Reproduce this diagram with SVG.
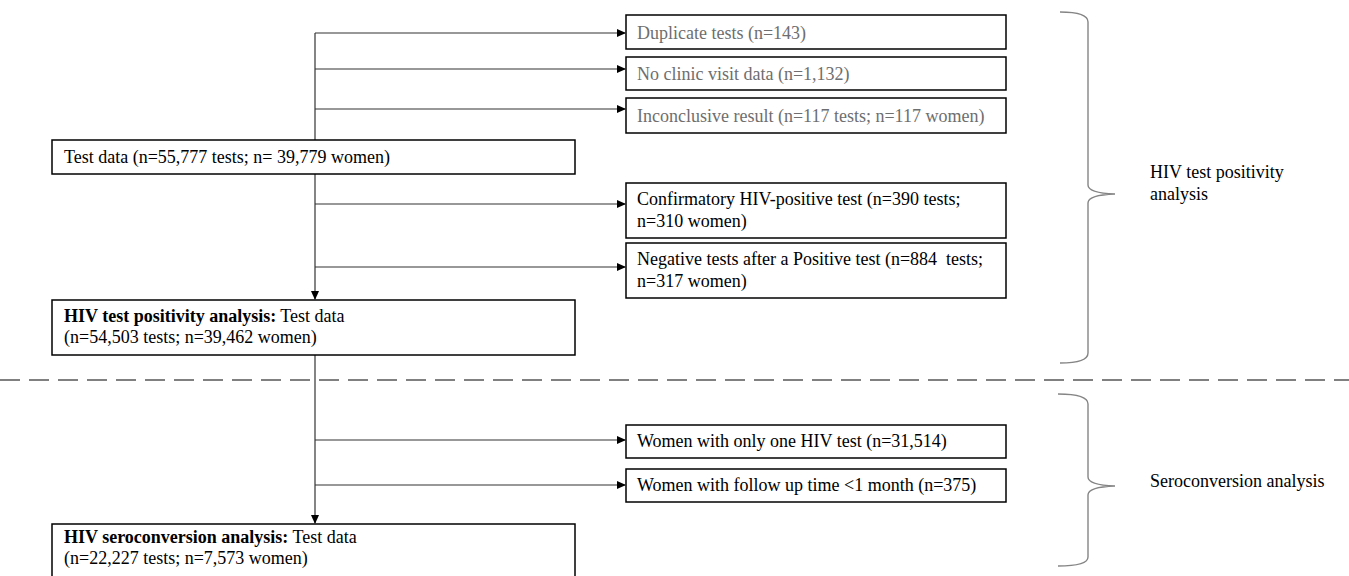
<svg xmlns="http://www.w3.org/2000/svg" width="1349" height="576" viewBox="0 0 1349 576">
<style>
.box{fill:#fff;stroke:#000;stroke-width:1.5}
.t{font-family:"Liberation Serif","Times New Roman",serif;font-size:18px;fill:#000}
.g{fill:#6e6e6e}
.b{font-weight:bold}
.c{fill:none;stroke:#333;stroke-width:1.2}
.br{fill:none;stroke:#858585;stroke-width:1.4}
</style>
<defs>
<marker id="ah" markerWidth="9" markerHeight="9" refX="8" refY="4.5" orient="auto" markerUnits="userSpaceOnUse">
<path d="M0,0.5 L9,4.5 L0,8.5 Z" fill="#000"/>
</marker>
</defs>
<rect width="1349" height="576" fill="#fff"/>
<g id="connectors">
<path class="c" d="M315,33 V140"/>
<path class="c" d="M315,174 V299" marker-end="url(#ah)"/>
<path class="c" d="M315,355 V523" marker-end="url(#ah)"/>
<path class="c" d="M315,33 H625" marker-end="url(#ah)"/>
<path class="c" d="M315,69 H625" marker-end="url(#ah)"/>
<path class="c" d="M315,109 H625" marker-end="url(#ah)"/>
<path class="c" d="M315,204 H625" marker-end="url(#ah)"/>
<path class="c" d="M315,267 H625" marker-end="url(#ah)"/>
<path class="c" d="M315,440 H625" marker-end="url(#ah)"/>
<path class="c" d="M315,485 H625" marker-end="url(#ah)"/>
</g>
<g id="divider">
<line x1="0" y1="380" x2="1349" y2="380" stroke="#808080" stroke-width="2" stroke-dasharray="20,9"/>
</g>
<g id="n-duplicate">
<rect class="box" x="626" y="15" width="380" height="34"/>
<text class="t g" x="637" y="39">Duplicate tests (n=143)</text>
</g>
<g id="n-noclinic">
<rect class="box" x="626" y="57" width="380" height="33"/>
<text class="t g" x="637" y="80">No clinic visit data (n=1,132)</text>
</g>
<g id="n-inconclusive">
<rect class="box" x="626" y="98" width="380" height="35"/>
<text class="t g" x="637" y="122">Inconclusive result (n=117 tests; n=117 women)</text>
</g>
<g id="n-testdata">
<rect class="box" x="52" y="140" width="523" height="34"/>
<text class="t" x="64" y="163">Test data (n=55,777 tests; n= 39,779 women)</text>
</g>
<g id="n-confirm">
<rect class="box" x="626" y="183" width="380" height="55"/>
<text class="t" x="637" y="205">Confirmatory HIV-positive test (n=390 tests;</text>
<text class="t" x="637" y="227">n=310 women)</text>
</g>
<g id="n-negative">
<rect class="box" x="626" y="243" width="380" height="55"/>
<text class="t" x="637" y="265" xml:space="preserve">Negative tests after a Positive test (n=884  tests;</text>
<text class="t" x="637" y="287">n=317 women)</text>
</g>
<g id="n-positivity">
<rect class="box" x="52" y="300" width="523" height="55"/>
<text class="t" x="64" y="322"><tspan class="b">HIV test positivity analysis:</tspan> Test data</text>
<text class="t" x="64" y="343">(n=54,503 tests; n=39,462 women)</text>
</g>
<g id="n-onetest">
<rect class="box" x="626" y="425" width="380" height="33"/>
<text class="t" x="637" y="447">Women with only one HIV test (n=31,514)</text>
</g>
<g id="n-followup">
<rect class="box" x="626" y="469" width="380" height="33"/>
<text class="t" x="637" y="491">Women with follow up time &lt;1 month (n=375)</text>
</g>
<g id="n-seroconversion">
<rect class="box" x="52" y="524" width="523" height="60"/>
<text class="t" x="64" y="543"><tspan class="b">HIV seroconversion analysis:</tspan> Test data</text>
<text class="t" x="64" y="564">(n=22,227 tests; n=7,573 women)</text>
</g>
<g id="brace-positivity">
<path class="br" d="M1060,12 Q1088,12 1088,22 V185 Q1088,193 1115,194 Q1088,195 1088,203 V353 Q1088,363 1060,363"/>
<text class="t" x="1150" y="178">HIV test positivity</text>
<text class="t" x="1150" y="200">analysis</text>
</g>
<g id="brace-sero">
<path class="br" d="M1058,394 Q1088,394 1088,404 V477 Q1088,485 1115,486 Q1088,487 1088,495 V557 Q1088,566 1058,566"/>
<text class="t" x="1150" y="487">Seroconversion analysis</text>
</g>
</svg>
